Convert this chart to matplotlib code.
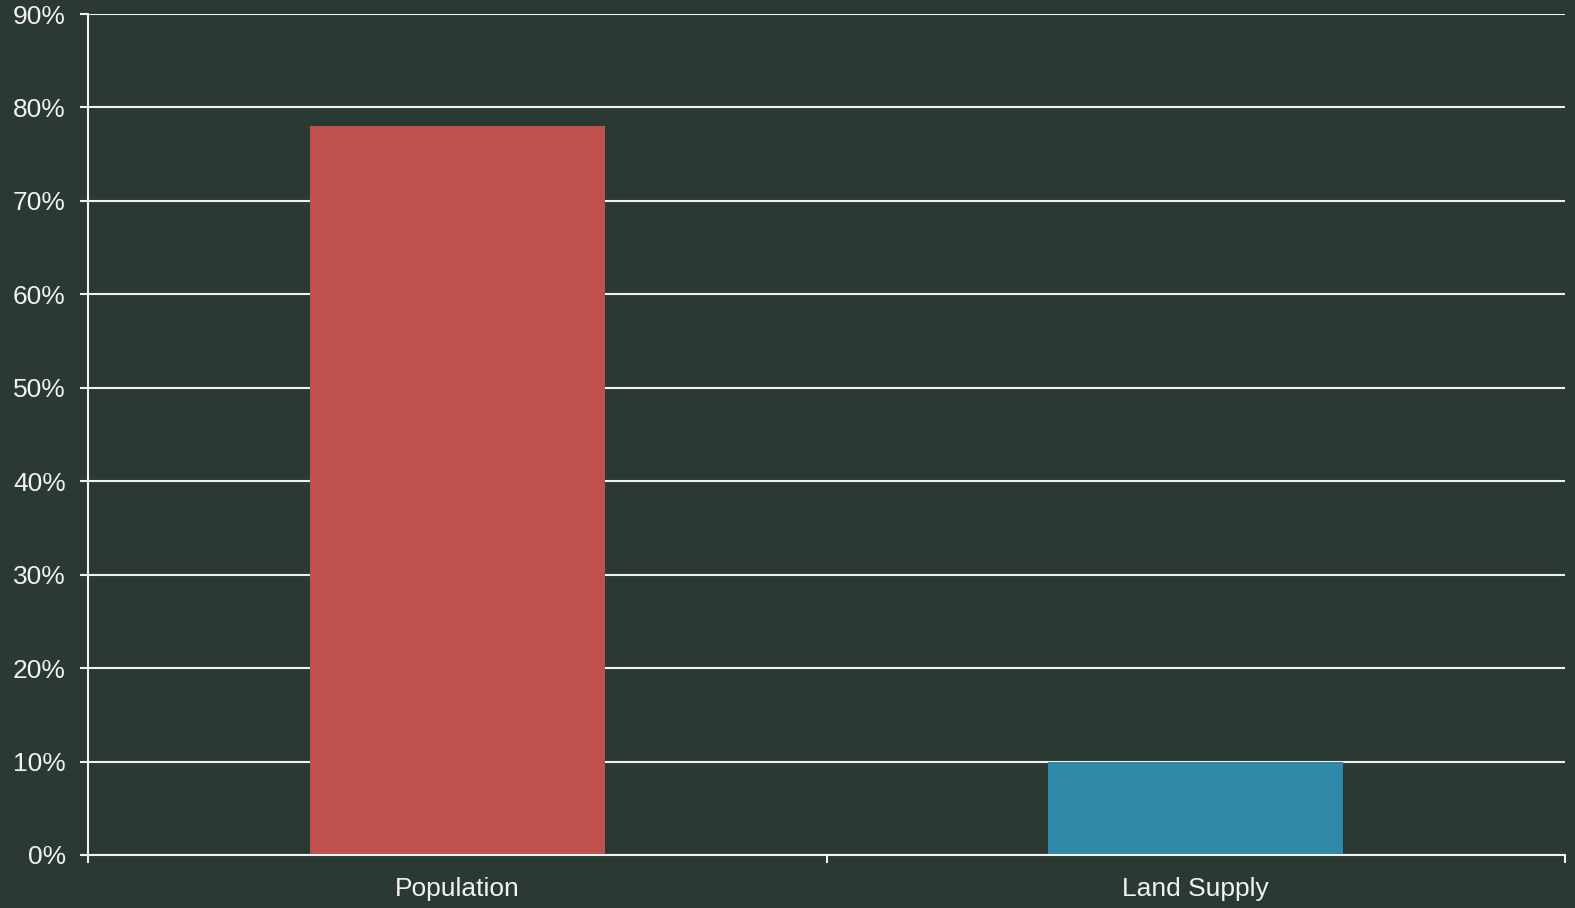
import matplotlib.pyplot as plt
from matplotlib.ticker import PercentFormatter

# data
categories = ['Population', 'Land Supply']
shares = [78, 10]  # [%]
bar_colors = ['#c0504d', '#2e88a8']

bg = '#2a3931'
fg = '#f2f2f2'

plt.rcParams['font.family'] = ['Liberation Sans', 'DejaVu Sans']

fig = plt.figure(figsize=(15.75, 9.08), dpi=100, facecolor=bg)
ax = fig.add_axes([88 / 1575, 1 - 855 / 908, 1477 / 1575, 841 / 908])
ax.set_facecolor(bg)

x = list(range(len(categories)))
ax.bar(x, shares, width=0.4, color=bar_colors, zorder=3)

ax.set_xlim(-0.5, len(categories) - 0.5)
ax.set_ylim(0, 90)
ax.set_yticks(range(0, 91, 10))
ax.yaxis.set_major_formatter(PercentFormatter(decimals=0))
ax.grid(axis='y', color=fg, linewidth=1.5, zorder=1)
ax.set_axisbelow(True)

# category boundary ticks, labels sit in between
ax.set_xticks([i - 0.5 for i in range(len(categories) + 1)])
ax.set_xticklabels([])
ax.set_xticks(x, minor=True)
ax.set_xticklabels(categories, minor=True)
ax.tick_params(axis='x', which='minor', length=0, pad=16)
ax.tick_params(axis='x', which='major', length=6, width=1.5, color=fg)
ax.tick_params(axis='y', length=6, width=1.5, color=fg, pad=10)
ax.tick_params(axis='both', which='both', labelcolor=fg, labelsize=19)

for side in ['top', 'right']:
    ax.spines[side].set_visible(False)
for side in ['left', 'bottom']:
    ax.spines[side].set_color(fg)
    ax.spines[side].set_linewidth(1.5)
    ax.spines[side].set_zorder(4)

fig.savefig('out.png', dpi=100, facecolor=bg)
